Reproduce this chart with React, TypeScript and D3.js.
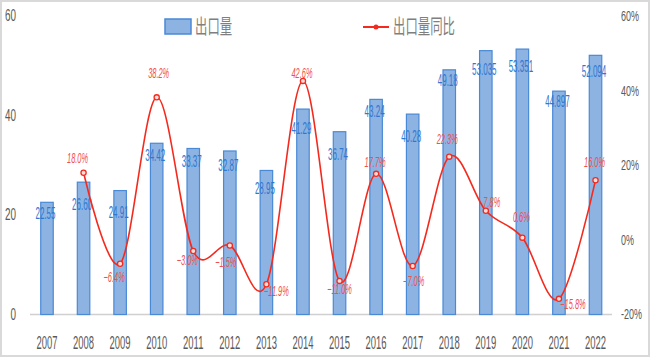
import React from 'react';
import * as d3 from 'd3';

const years = ['2007','2008','2009','2010','2011','2012','2013','2014','2015','2016','2017','2018','2019','2020','2021','2022'];
const volume = [22.55,26.60,24.91,34.42,33.37,32.87,28.95,41.29,36.74,43.24,40.28,49.18,53.035,53.351,44.897,52.094];
const volumeLabels = ['22.55','26.60','24.91','34.42','33.37','32.87','28.95','41.29','36.74','43.24','40.28','49.18','53.035','53.351','44.897','52.094'];
const yoy: (number | null)[] = [null,18.0,-6.4,38.2,-3.0,-1.5,-11.9,42.6,-11.0,17.7,-7.0,22.3,7.8,0.6,-15.8,16.0];
const leftTicks = [0,20,40,60];
const rightTicks = [-20,0,20,40,60];
const seriesNames = ['出口量','出口量同比'];

// label placement (layout only)
const volLabelDy = [12,23,22,13,13,15,18,20,23,13,23,11,19,18,11,17];
const pctLabelOff: [number, number][] = [[0,0],[-6,-15],[-6,13],[2,-24],[-6,9],[-4,17],[10,7],[-1,-8],[0,8],[-1,-12],[1,15],[-2,-18],[6,-9],[-1,-21],[14,5],[-1,-18]];

const W = 650, H = 359;
const LATIN = '"Liberation Sans", Arial, sans-serif';
const CJK = '"Noto Sans CJK SC", sans-serif';

function T({x, y, children, size, sx, fill, anchor = 'middle', italic = false, family = LATIN}: any) {
  return (
    <text transform={`translate(${x},${y}) scale(${sx},1)`} textAnchor={anchor} dominantBaseline="central"
      fontSize={size} fill={fill} fontFamily={family} fontStyle={italic ? 'italic' : 'normal'}>{children}</text>
  );
}

export default function App() {
  const x = d3.scaleBand<string>().domain(years).range([28.7, 613.8]);
  const yL = d3.scaleLinear().domain([0, 60]).range([314.5, 16]);
  const yR = d3.scaleLinear().domain([-20, 60]).range([314.5, 16]);
  const bw = 12.5;
  const cx = (yr: string) => (x(yr) as number) + x.bandwidth() / 2;

  const pts = years.map((yr, i) => ({yr, v: yoy[i], i})).filter(d => d.v !== null) as {yr: string; v: number; i: number}[];
  const line = d3.line<{yr: string; v: number}>().x(d => cx(d.yr)).y(d => yR(d.v)).curve(d3.curveCatmullRom.alpha(0));

  const barFill = '#8DB3E2';
  const barStroke = '#4A89D6';
  const blueText = '#2F78D0';
  const red = '#F42A1E';
  const redText = '#F0504C';
  const gray = '#595959';

  return (
    <svg width={W} height={H} style={{position: 'absolute', left: 0, top: 0, display: 'block', background: '#fff'}}>
      <rect x={1} y={1} width={W - 2} height={355} fill="#fff" stroke="#d9d9d9" strokeWidth={2} />
      {/* axis line */}
      <line x1={30} x2={612} y1={yL(0)} y2={yL(0)} stroke="#d0d0d0" strokeWidth={1.5} />
      {/* left ticks */}
      {leftTicks.map(t => (
        <T key={t} x={16} y={yL(t)} size={16.5} sx={0.6} fill={gray} anchor="end">{String(t)}</T>
      ))}
      {rightTicks.map(t => (
        <T key={t} x={621} y={yR(t)} size={15.5} sx={0.58} fill={gray} anchor="start">{`${t}%`}</T>
      ))}
      {/* x labels */}
      {years.map(yr => (
        <T key={yr} x={cx(yr)} y={343} size={18} sx={0.525} fill={gray}>{yr}</T>
      ))}
      {/* bars */}
      {years.map((yr, i) => (
        <rect key={yr} x={cx(yr) - bw / 2} y={yL(volume[i])} width={bw} height={yL(0) - yL(volume[i])}
          fill={barFill} stroke={barStroke} strokeWidth={1.2} />
      ))}
      {/* bar labels */}
      {years.map((yr, i) => (
        <T key={yr} x={cx(yr) - 1.5} y={yL(volume[i]) + volLabelDy[i]} size={16} sx={0.5} fill={blueText}>{volumeLabels[i]}</T>
      ))}
      {/* line */}
      <path d={line(pts) || ''} fill="none" stroke={red} strokeWidth={1.6} />
      {pts.map(d => (
        <circle key={d.yr} cx={cx(d.yr)} cy={yR(d.v)} r={2.6} fill="#fde0dc" stroke={red} strokeWidth={1.3} />
      ))}
      {pts.map(d => (
        <T key={d.yr} x={cx(d.yr) + pctLabelOff[d.i][0]} y={yR(d.v) + pctLabelOff[d.i][1]} size={14} sx={0.53}
          fill={redText} italic>{`${d3.format('.1f')(d.v)}%`}</T>
      ))}
      {/* legend */}
      <rect x={165} y={19} width={26} height={15} fill={barFill} stroke={barStroke} strokeWidth={1.5} />
      <T x={195} y={26} size={20} sx={0.62} fill="#7f7f7f" anchor="start" family={CJK}>{seriesNames[0]}</T>
      <line x1={363} x2={389} y1={27} y2={27} stroke={red} strokeWidth={2} />
      <circle cx={376} cy={27} r={2.5} fill={red} />
      <T x={393} y={26} size={20} sx={0.62} fill="#7f7f7f" anchor="start" family={CJK}>{seriesNames[1]}</T>
    </svg>
  );
}
